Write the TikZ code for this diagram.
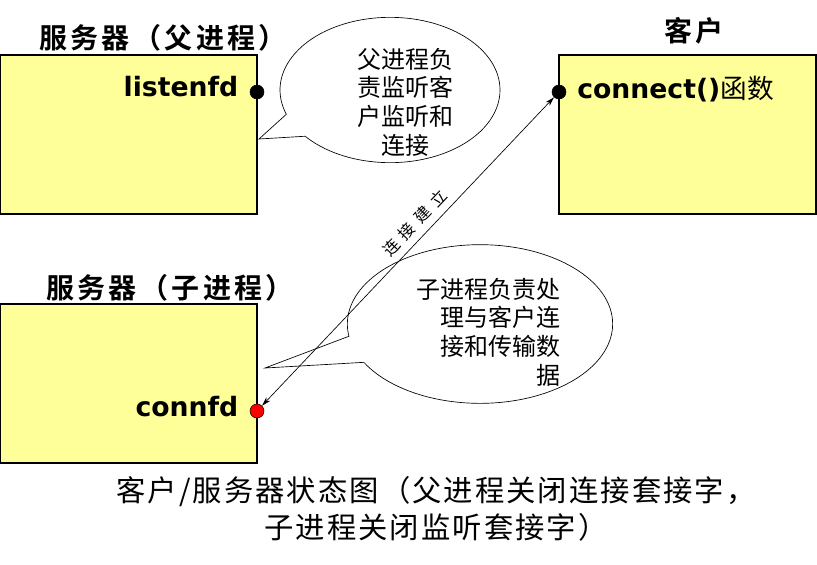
\documentclass[tikz,border=0pt]{standalone}
\usepackage{fontspec}
\setmainfont{DejaVu Sans}
\newfontfamily\cjk{Noto Sans CJK SC}[BoldFont={Noto Sans CJK SC Bold}]
\newfontfamily\cjkwide{Noto Sans CJK SC}[LetterSpace=7, BoldFont={Noto Sans CJK SC Bold}]
\newfontfamily\cjktitle{Noto Sans CJK SC Bold}[LetterSpace=12]
\usetikzlibrary{shapes.callouts,arrows.meta}
\definecolor{boxyellow}{RGB}{255,255,153}
\tikzset{
  hostbox/.style={draw=black, fill=boxyellow, line width=0.8pt, inner sep=0pt,
    minimum width=192.75pt, minimum height=119.25pt},
  sockdot/.style={circle, draw=black, fill=black, inner sep=0pt, minimum size=10.5pt},
  fdname/.style={font=\fontsize{20}{24}\selectfont\bfseries},
  hosttitle/.style={font=\cjktitle\fontsize{21}{25}\selectfont},
  bubble/.style={ellipse callout, draw=black, line width=0.5pt, inner sep=0pt,
    callout pointer arc=20},
  bubbletext/.style={font=\cjk\fontsize{18}{21.5}\selectfont},
}
\begin{document}
\begin{tikzpicture}[x=0.75pt, y=-0.75pt]
\useasboundingbox (0,0) rectangle (817,564);
% Hosts
\node[hostbox] (parent) at (128.5,134.5) {};
\node[hostbox] (child) at (128.5,383.5) {};
\node[hostbox] (client) at (687.5,134.5) {};
% Titles
\node[hosttitle] (parenttitle) at (163,38) {服务器（父进程）};
\node[hosttitle] (childtitle) at (170,288) {服务器（子进程）};
\node[hosttitle] (clienttitle) at (694,31) {客户};
% Sockets
\node[sockdot] (listendot) at (257,92) {};
\node[sockdot] (connectdot) at (559,92) {};
\node[sockdot, fill=red] (connfddot) at (257,411) {};
\node[fdname, anchor=east] (listenfd) at (243,87) {listenfd};
\node[fdname, anchor=east] (connfd) at (243,407) {connfd};
\node[fdname, anchor=west, inner xsep=0pt] (connect) at (577,89) {connect()\cjk\mdseries 函数};
% Bubbles
\node[bubble, minimum width=165pt, minimum height=109pt,
  callout absolute pointer={(259,139)}] (parentbubble) at (390,90) {};
\node[bubble, minimum width=199pt, minimum height=119pt,
  callout absolute pointer={(265,368)}] (childbubble) at (480,324) {};
\node[bubbletext, align=center] (parentnote) at (405,102) {父进程负\\责监听客\\户监听和\\连接};
\node[bubbletext, align=right, anchor=east] (childnote) at (565,332) {子进程负责处\\理与客户连\\接和传输数\\据};
% Connection
\draw[{Stealth[length=7pt,width=4pt]}-{Stealth[length=7pt,width=4pt]}, line width=0.5pt]
  (connfddot) -- node[pos=0.56, sloped, above=2pt, font=\cjk\fontsize{12}{14}\selectfont] (setup)
  {连\hspace{5pt}接\hspace{5pt}建\hspace{5pt}立} (connectdot);
% Caption
\node[font=\cjkwide\fontsize{22}{28}\selectfont, align=center] (caption) at (436,509)
  {客户/服务器状态图（父进程关闭连接套接字，\\子进程关闭监听套接字）};
\end{tikzpicture}
\end{document}
